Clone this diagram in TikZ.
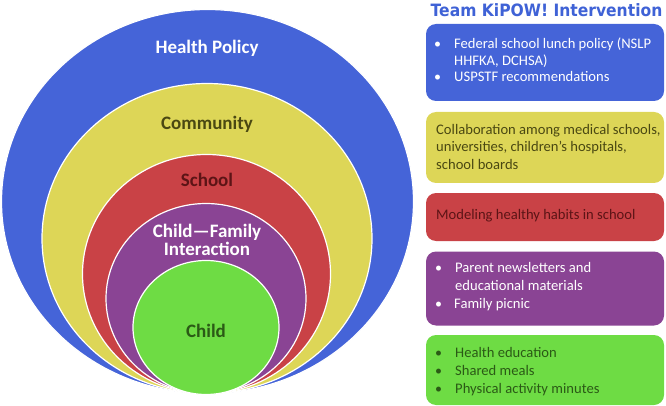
\documentclass[tikz,border=0pt]{standalone}
\usepackage{fontspec}
\setmainfont{Carlito}
\newfontfamily\titlefont{DejaVu Sans}
\definecolor{cblue}{HTML}{4564D8}
\definecolor{cyellow}{HTML}{DDD657}
\definecolor{cred}{HTML}{C94246}
\definecolor{cpurple}{HTML}{8A4494}
\definecolor{cgreen}{HTML}{6EDC44}
\definecolor{tolive}{HTML}{4A4812}
\definecolor{tred}{HTML}{5C1416}
\definecolor{tgreen}{HTML}{2B5A16}
\definecolor{ttitle}{HTML}{3F62D6}
\tikzset{
  ring/.style={draw=white, line width=1.2pt},
  ringlabel/.style={font=\fontsize{19}{21}\selectfont\bfseries, align=center},
  box/.style={rounded corners=10pt, minimum width=238pt, inner sep=0pt},
  line/.style={anchor=base west, inner sep=0pt, font=\fontsize{14.6}{16}\selectfont},
  bul/.style={anchor=base west, inner sep=0pt, font=\fontsize{14}{16}\selectfont},
}
\begin{document}
\begin{tikzpicture}[x=1pt,y=-1pt]
\useasboundingbox (0,0) rectangle (666,406);
% nested ellipses
\draw[ring, fill=cblue]   (207.5,201.5) ellipse [x radius=206, y radius=192];
\draw[ring, fill=cyellow] (207,238.5) ellipse [x radius=165, y radius=155];
\draw[ring, fill=cred]    (206.5,274) ellipse [x radius=124, y radius=119.5];
\draw[ring, fill=cpurple] (206,298.5) ellipse [x radius=100, y radius=95];
\draw[ring, fill=cgreen]  (206,327.5) ellipse [x radius=73, y radius=67];
% ellipse labels
\node[ringlabel, text=white] (lhp) at (207,48) {Health Policy};
\node[ringlabel, text=tolive] (lcom) at (207,124) {Community};
\node[ringlabel, text=tred] (lsch) at (207,180) {School};
\node[ringlabel, text=white, font=\fontsize{19}{18.5}\selectfont\bfseries] (lcfi) at (207,240) {Child—Family\\Interaction};
\node[ringlabel, text=tgreen] (lchild) at (206,331) {Child};
% title
\node[anchor=base, text=ttitle, font=\titlefont\fontsize{17}{18}\selectfont\bfseries, inner sep=0pt] (title) at (546.5,16.5) {\scalebox{0.915}[1]{Team KiPOW! Intervention}};
% boxes
\node[box, fill=cblue, minimum height=77pt] (b1) at (545,62.5) {};
\node[box, fill=cyellow, minimum height=71pt] (b2) at (545,147.5) {};
\node[box, fill=cred, minimum height=48pt] (b3) at (545,217) {};
\node[box, fill=cpurple, minimum height=74pt] (b4) at (545,288.5) {};
\node[box, fill=cgreen, minimum height=70pt] (b5) at (545,370) {};
% box 1 text
\node[bul, text=white] (b1b1) at (434,49) {•};
\node[line, text=white] (b1l1) at (454,49) {Federal school lunch policy (NSLP};
\node[line, text=white] (b1l2) at (454,65.5) {HHFKA, DCHSA)};
\node[bul, text=white] (b1b2) at (434,82) {•};
\node[line, text=white] (b1l3) at (454,82) {USPSTF recommendations};
% box 2 text
\node[line, text=tolive] (b2l1) at (436,134.5) {Collaboration among medical schools,};
\node[line, text=tolive] (b2l2) at (436,152) {universities, children’s hospitals,};
\node[line, text=tolive] (b2l3) at (436,169.5) {school boards};
% box 3 text
\node[line, text=tred] (b3l1) at (436,219.5) {Modeling healthy habits in school};
% box 4 text
\node[bul, text=white] (b4b1) at (435,272) {•};
\node[line, text=white] (b4l1) at (455,272) {Parent newsletters and};
\node[line, text=white] (b4l2) at (455,290) {educational materials};
\node[bul, text=white] (b4b2) at (435,308.5) {•};
\node[line, text=white] (b4l3) at (454,308.5) {Family picnic};
% box 5 text
\node[bul, text=tgreen] (b5b1) at (435,357) {•};
\node[line, text=tgreen] (b5l1) at (455,357) {Health education};
\node[bul, text=tgreen] (b5b2) at (435,375) {•};
\node[line, text=tgreen] (b5l2) at (455,375) {Shared meals};
\node[bul, text=tgreen] (b5b3) at (435,393.5) {•};
\node[line, text=tgreen] (b5l3) at (455,393.5) {Physical activity minutes};
\end{tikzpicture}
\end{document}
